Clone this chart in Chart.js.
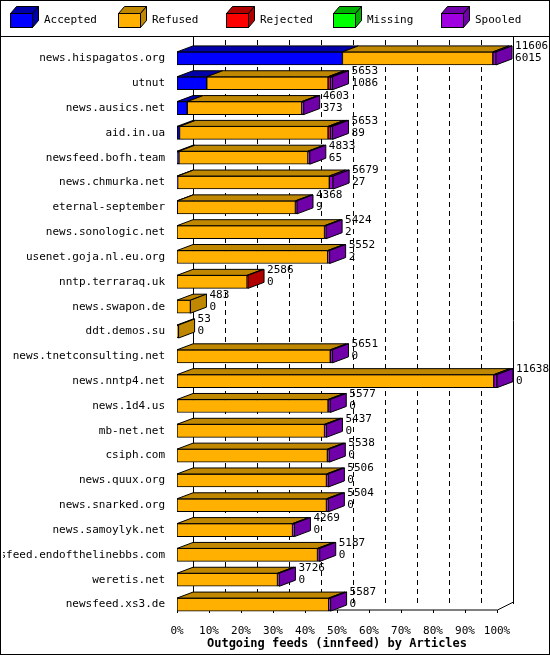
<!DOCTYPE html>
<html><head><meta charset="utf-8">
<script src="https://cdn.jsdelivr.net/npm/chart.js@4"></script>
<style>html,body{margin:0;padding:0;background:#fff}#w{width:550px;height:655px}</style>
</head><body><div id="w"><canvas id="c"></canvas></div>
<script>
const categories=["news.hispagatos.org","utnut","news.ausics.net","aid.in.ua","newsfeed.bofh.team","news.chmurka.net","eternal-september","news.sonologic.net","usenet.goja.nl.eu.org","nntp.terraraq.uk","news.swapon.de","ddt.demos.su","news.tnetconsulting.net","news.nntp4.net","news.1d4.us","mb-net.net","csiph.com","news.quux.org","news.snarked.org","news.samoylyk.net","newsfeed.endofthelinebbs.com","weretis.net","newsfeed.xs3.de"];
const totals=[11606,5653,4603,5653,4833,5679,4368,5424,5552,2586,483,53,5651,11638,5577,5437,5538,5506,5504,4269,5187,3726,5587];
const acceptedCounts=[6015,1086,373,89,65,27,9,2,2,0,0,0,0,0,0,0,0,0,0,0,0,0,0];
const accepted=[51.7,9.3,3.2,0.8,0.6,0.2,0.1,0,0,0,0,0,0,0,0,0,0,0,0,0,0,0,0];
const refused=[47.0,37.9,35.8,46.4,40.3,47.4,36.9,46.1,47.1,21.9,4.2,0.5,47.9,99.0,47.2,46.1,47.0,46.7,46.7,36.1,43.9,31.4,47.4];
const rejected=[0,0.7,0,0.7,0,0,0,0,0,0.3,0,0,0,0,0,0,0,0,0,0,0,0,0];
const missing=[0,0,0,0,0,0,0,0,0,0,0,0,0,0,0,0,0,0,0,0,0,0,0];
const spooled=[1,0.7,0.6,0.7,0.6,1.2,0.5,0.5,0.6,0,0,0,0.7,1,0.7,0.6,0.6,0.6,0.6,0.6,0.7,0.6,0.6];
const xTicks=[0,10,20,30,40,50,60,70,80,90,100];
const seriesNames=["Accepted","Refused","Rejected","Missing","Spooled"];
const front=["#0000ff","#ffb000","#ff0000","#00ff00","#a000e0"];
const dark=["#0000a8","#c08800","#b00000","#00b000","#7000a8"];
const DX=16,DY=6,F="11px 'DejaVu Sans Mono'";

const threeD={id:'threeD',
 beforeDatasetsDraw(ch){const c=ch.ctx,a=ch.chartArea,x=ch.scales.x;c.save();
  c.strokeStyle='#000';c.lineWidth=1;
  const top=40,bot=a.bottom-7;
  c.setLineDash([5,4]);
  for(const t of xTicks){if(t===0||t===100)continue;const px=Math.round(x.getPixelForValue(t))+DX+.5;c.beginPath();c.moveTo(px,top);c.lineTo(px,bot-DY);c.stroke();}
  c.setLineDash([]);
  const l=Math.round(x.getPixelForValue(0))+.5,r=Math.round(x.getPixelForValue(100))+.5;
  c.beginPath();c.moveTo(l+DX,37);c.lineTo(l+DX,bot-DY);c.moveTo(r+DX,37);c.lineTo(r+DX,bot-DY);c.stroke();
  c.beginPath();c.moveTo(l,bot);c.lineTo(r,bot);c.lineTo(r+DX,bot-DY-2);c.moveTo(l,bot);c.lineTo(l+DX,bot-DY-2);c.stroke();
  for(const t of xTicks){const px=Math.round(x.getPixelForValue(t))+.5;c.beginPath();c.moveTo(px,bot);c.lineTo(px,bot+3);c.stroke();}
  c.restore();},
 afterDatasetsDraw(ch){const c=ch.ctx;c.save();c.strokeStyle='#000';c.lineWidth=1;
  for(let i=0;i<categories.length;i++){let last=null;
   for(let d=0;d<5;d++){const el=ch.getDatasetMeta(d).data[i];if(!el)continue;const w=el.x-el.base;if(w<=0.01)continue;
    const t=el.y-el.height/2;c.fillStyle=dark[d];c.beginPath();c.moveTo(el.base,t);c.lineTo(el.x,t);c.lineTo(el.x+DX,t-DY);c.lineTo(el.base+DX,t-DY);c.closePath();c.fill();c.stroke();last={el,d};}
   if(last){const el=last.el,t=el.y-el.height/2,b=el.y+el.height/2;c.fillStyle=dark[last.d];c.beginPath();c.moveTo(el.x,t);c.lineTo(el.x+DX,t-DY);c.lineTo(el.x+DX,b-DY);c.lineTo(el.x,b);c.closePath();c.fill();c.stroke();
    c.fillStyle='#000';c.font=F;c.textBaseline='middle';c.textAlign='left';
    c.fillText(String(totals[i]),el.x+DX+3,el.y-12);c.fillText(String(acceptedCounts[i]),el.x+DX+3,el.y);}
  }
  // legend
  c.font=F;c.textBaseline='middle';const lx=[10,118,226,333,441];
  for(let k=0;k<5;k++){const x0=lx[k]+.5,y0=13.5,w=22,h=14;
   c.fillStyle=front[k];c.fillRect(x0,y0,w,h);c.strokeRect(x0,y0,w,h);
   c.fillStyle=dark[k];c.beginPath();c.moveTo(x0,y0);c.lineTo(x0+6,y0-7);c.lineTo(x0+w+6,y0-7);c.lineTo(x0+w,y0);c.closePath();c.fill();c.stroke();
   c.beginPath();c.moveTo(x0+w,y0);c.lineTo(x0+w+6,y0-7);c.lineTo(x0+w+6,y0+h-7);c.lineTo(x0+w,y0+h);c.closePath();c.fill();c.stroke();
   c.fillStyle='#000';c.fillText(seriesNames[k],lx[k]+34,20);}
  c.beginPath();c.moveTo(0,36.5);c.lineTo(550,36.5);c.stroke();
  c.strokeRect(.5,.5,549,654);
  c.restore();}
};

const vals=[accepted,refused,rejected,missing,spooled];
new Chart(document.getElementById('c'),{type:'bar',
 data:{labels:categories,datasets:seriesNames.map((n,k)=>({label:n,data:vals[k],backgroundColor:front[k],borderColor:'#000',borderWidth:1,borderSkipped:false,barThickness:13}))},
 plugins:[threeD],
 options:{indexAxis:'y',responsive:true,maintainAspectRatio:false,animation:false,
  layout:{padding:{top:46,left:3,right:53,bottom:4}},
  plugins:{legend:{display:false},tooltip:{enabled:false}},
  scales:{
   x:{stacked:true,min:0,max:100,grid:{display:false},border:{display:false},
      afterBuildTicks(s){s.ticks=xTicks.map(v=>({value:v}));},
      ticks:{color:'#000',font:{family:'DejaVu Sans Mono',size:11},padding:0,callback:v=>v+'%',maxRotation:0,autoSkip:false},
      title:{display:true,text:'Outgoing feeds (innfeed) by Articles',color:'#000',font:{family:'DejaVu Sans Mono',size:12,weight:'bold'},padding:{top:0,bottom:0}},
      afterFit(s){s.height=34;}},
   y:{stacked:true,grid:{display:false},border:{display:false},
      ticks:{color:'#000',font:{family:'DejaVu Sans Mono',size:11},padding:4,autoSkip:false},
      afterFit(s){s.width=174;}}
  }}});
</script></body></html>
